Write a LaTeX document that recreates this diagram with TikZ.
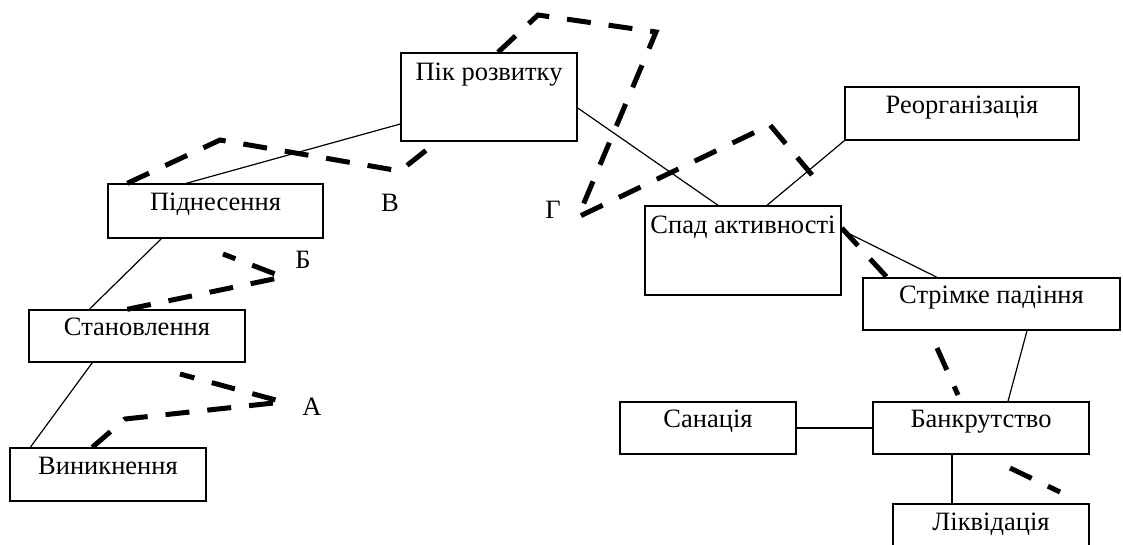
\documentclass[tikz,border=0pt]{standalone}
\usepackage{fontspec}
\setmainfont{Liberation Serif}
\begin{document}
\begin{tikzpicture}[x=1pt,y=-1pt,
  box/.style={draw, line width=1.4pt, inner sep=0pt, font=\fontsize{26.5}{31}\selectfont},
  letter/.style={inner sep=0pt, font=\fontsize{26.5}{31}\selectfont},
  link/.style={line width=1.2pt},
  dashline/.style={line width=5pt, dash pattern=on 24pt off 18pt}]
\useasboundingbox (0,0) rectangle (1123,544);
\begin{scope}
\clip (0,0) rectangle (1123,544);
% boxes
\node[box, minimum width=196pt, text height=26pt, text depth=27pt] (vyn) at (108,474.5) {Виникнення};
\node[box, minimum width=216pt, text height=25pt, text depth=27pt] (stan) at (137,336) {Становлення};
\node[box, minimum width=215pt, text height=26pt, text depth=28pt] (pidn) at (215.5,211) {Піднесення};
\node[box, minimum width=176pt, text height=27pt, text depth=61pt] (pik) at (489,97) {Пік розвитку};
\node[box, minimum width=196pt, text height=27pt, text depth=62pt] (spad) at (743,250.5) {Спад активності};
\node[box, minimum width=234pt, text height=26pt, text depth=27pt] (reorg) at (962,113.5) {Реорганізація};
\node[box, minimum width=257pt, text height=25pt, text depth=27pt] (strim) at (991.5,304) {Стрімке падіння};
\node[box, minimum width=176pt, text height=25pt, text depth=27pt] (sanac) at (708,428) {Санація};
\node[box, minimum width=216pt, text height=25pt, text depth=27pt] (bankr) at (981,428) {Банкрутство};
\node[box, minimum width=196pt, text height=26pt, text depth=28pt] (likv) at (991,531) {Ліквідація};
% letters
\node[letter] (lA) at (312,407) {А};
\node[letter] (lB) at (303,260) {Б};
\node[letter] (lV) at (390,203) {В};
\node[letter] (lG) at (553,210) {Г};
% solid connectors
\draw[link] ([xshift=21pt]vyn.north west) -- ([xshift=64pt]stan.south west);
\draw[link] ([xshift=61pt]stan.north west) -- ([xshift=54pt]pidn.south west);
\draw[link] ([xshift=79pt]pidn.north west) -- ([yshift=-27pt]pik.west);
\draw[link] ([yshift=-11pt]pik.east) -- ([xshift=-25pt]spad.north);
\draw[link] ([xshift=24pt]spad.north) -- (reorg.south west);
\draw[link] ([yshift=20.5pt]spad.east) -- ([xshift=-54.5pt]strim.north);
\draw[link] ([xshift=35.5pt]strim.south) -- ([xshift=27pt]bankr.north);
\draw[link] (sanac.east) -- (bankr.west);
\draw[link] ([xshift=-29pt]bankr.south) -- ([xshift=-39pt]likv.north);
% dashed thick lines
\draw[dashline] ([xshift=83pt]vyn.north west) -- (125,419) -- (283,402) -- (180,374);
\draw[dashline] ([xshift=99pt]stan.north west) -- (283,277) -- (223,254);
\draw[dashline] ([xshift=20pt]pidn.north west) -- (220,140) -- (400,171) -- ([xshift=-52pt]pik.south);
\draw[dashline] ([xshift=9pt]pik.north) -- (538,15) -- (656,32) -- (578,217) -- (672,172) -- (770,125) -- (812,175);
\draw[dashline] ([yshift=22.5pt]spad.east) -- ([xshift=-104.5pt]strim.north);
\draw[dashline] (937,348) -- (958,395);
\draw[dashline] (1010,468) -- (1060,492);
\end{scope}
\end{tikzpicture}
\end{document}
